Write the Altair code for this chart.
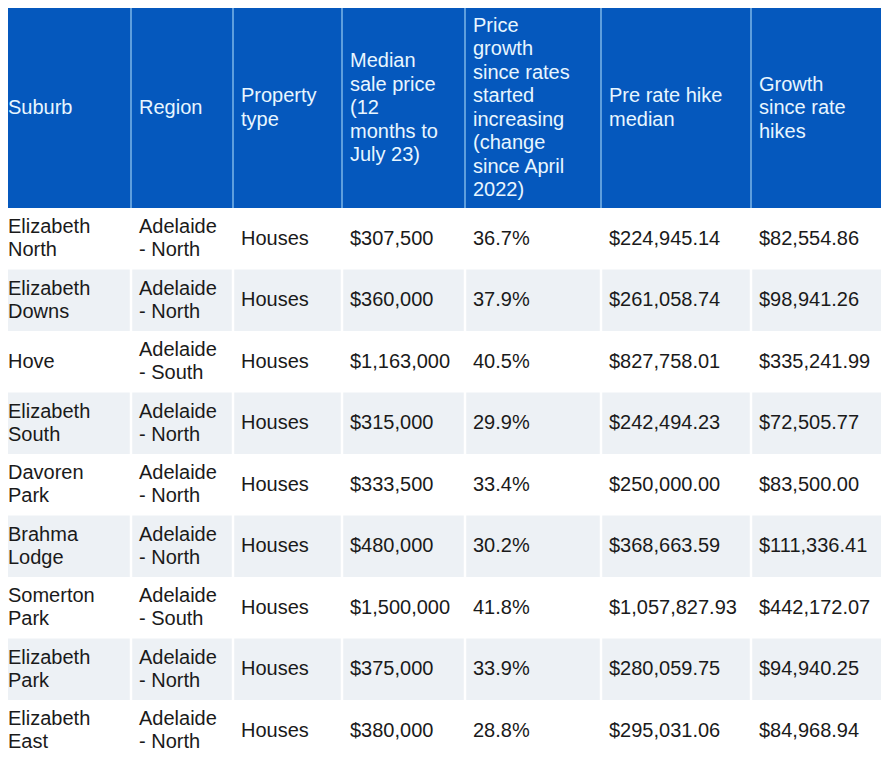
import altair as alt
import pandas as pd

# ---------------- data ----------------
headers = [
    "Suburb",
    "Region",
    "Property\ntype",
    "Median\nsale price\n(12\nmonths to\nJuly 23)",
    "Price\ngrowth\nsince rates\nstarted\nincreasing\n(change\nsince April\n2022)",
    "Pre rate hike\nmedian",
    "Growth\nsince rate\nhikes",
]
suburbs = ["Elizabeth\nNorth", "Elizabeth\nDowns", "Hove", "Elizabeth\nSouth", "Davoren\nPark",
           "Brahma\nLodge", "Somerton\nPark", "Elizabeth\nPark", "Elizabeth\nEast"]
regions = ["Adelaide\n- North", "Adelaide\n- North", "Adelaide\n- South", "Adelaide\n- North",
           "Adelaide\n- North", "Adelaide\n- North", "Adelaide\n- South", "Adelaide\n- North",
           "Adelaide\n- North"]
property_types = ["Houses"] * 9
median_sale = [307500, 360000, 1163000, 315000, 333500, 480000, 1500000, 375000, 380000]
growth_pct = [36.7, 37.9, 40.5, 29.9, 33.4, 30.2, 41.8, 33.9, 28.8]
pre_hike = [224945.14, 261058.74, 827758.01, 242494.23, 250000.00, 368663.59,
            1057827.93, 280059.75, 295031.06]
growth_since = [82554.86, 98941.26, 335241.99, 72505.77, 83500.00, 111336.41,
                442172.07, 94940.25, 84968.94]

# ---------------- layout / style ----------------
col_edges = [0, 131, 233, 342, 465, 601, 751, 886]
header_top, header_bottom = 6, 208
row_h = 61.5
text_pad = 8
LH_HEAD = 23.5
LH_BODY = 23
BLUE = "#0558BD"
HEADER_TXT = "#E8F6FF"
SEP_HEAD = "#7DB6E8"
GRAY_ROW = "#EDF1F5"
BODY_TXT = "#1A1A1A"
FONT = "Liberation Sans"

n_rows = len(suburbs)
body_cols = [
    suburbs,
    regions,
    property_types,
    [f"${v:,.0f}" for v in median_sale],
    [f"{v:.1f}%" for v in growth_pct],
    [f"${v:,.2f}" for v in pre_hike],
    [f"${v:,.2f}" for v in growth_since],
]

# background rects
rects = [dict(x=col_edges[0], x2=col_edges[-1], y=header_top, y2=header_bottom, fill=BLUE)]
for i in range(n_rows):
    y0 = header_bottom + i * row_h
    rects.append(dict(x=col_edges[0], x2=col_edges[-1], y=y0, y2=y0 + row_h,
                      fill=(GRAY_ROW if i % 2 == 1 else "#FFFFFF")))
rect_df = pd.DataFrame(rects)

# separators
seps = []
for e in col_edges[1:-1]:
    seps.append(dict(x=e, y=header_top, y2=header_bottom, c=SEP_HEAD, w=1.5))
    seps.append(dict(x=e, y=header_bottom, y2=header_bottom + n_rows * row_h, c="#FFFFFF", w=2.5))
sep_df = pd.DataFrame(seps)


def first_line_y(center, label, lh):
    n = label.count("\n") + 1
    return center - (n - 1) * lh / 2


# text cells
texts = []
for j, h in enumerate(headers):
    yc = (header_top + header_bottom) / 2 + 1
    texts.append(dict(x=col_edges[j] + text_pad, y=first_line_y(yc, h, LH_HEAD),
                      label=h, c=HEADER_TXT, kind="head"))
for j, col in enumerate(body_cols):
    for i, v in enumerate(col):
        yc = header_bottom + (i + 0.5) * row_h
        texts.append(dict(x=col_edges[j] + text_pad, y=first_line_y(yc, v, LH_BODY),
                          label=v, c=BODY_TXT, kind="body"))
text_df = pd.DataFrame(texts)

W, H = 873, 744
xs = alt.Scale(domain=[8, 8 + W], range=[0, W], nice=False, zero=False)
ys = alt.Scale(domain=[8, 8 + H], range=[0, H], nice=False, zero=False)

bg = alt.Chart(rect_df).mark_rect(clip=True).encode(
    x=alt.X("x:Q", scale=xs, axis=None),
    x2="x2:Q",
    y=alt.Y("y:Q", scale=ys, axis=None),
    y2="y2:Q",
    color=alt.Color("fill:N", scale=None),
)

rules = alt.Chart(sep_df).mark_rule(clip=True).encode(
    x=alt.X("x:Q", scale=xs, axis=None),
    y=alt.Y("y:Q", scale=ys, axis=None),
    y2="y2:Q",
    color=alt.Color("c:N", scale=None),
    strokeWidth=alt.StrokeWidth("w:Q", scale=None),
)


def text_layer(kind, lh):
    return alt.Chart(text_df).transform_filter(alt.datum.kind == kind).mark_text(
        align="left", baseline="middle", lineBreak="\n", lineHeight=lh,
        font=FONT, fontSize=20, clip=True,
    ).encode(
        x=alt.X("x:Q", scale=xs, axis=None),
        y=alt.Y("y:Q", scale=ys, axis=None),
        text="label:N",
        color=alt.Color("c:N", scale=None),
    )


chart = alt.layer(bg, rules, text_layer("head", LH_HEAD), text_layer("body", LH_BODY)).properties(
    width=W, height=H, padding=0, autosize=alt.AutoSizeParams(type="none")
).configure_view(stroke=None)

chart.save("out.html", embed_options={"renderer": "svg", "actions": False})
